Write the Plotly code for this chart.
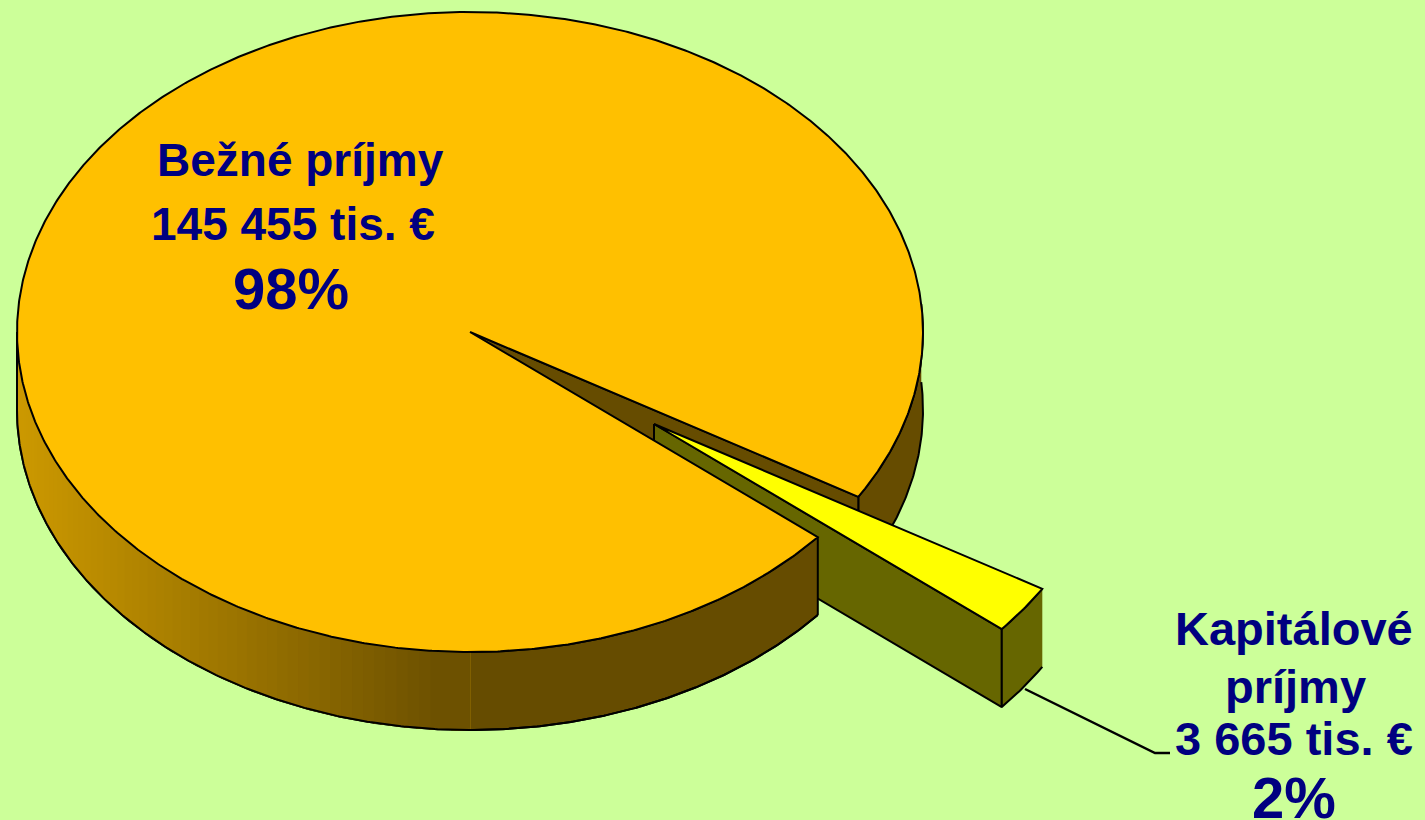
import numpy as np
import plotly.graph_objects as go

# --- data -------------------------------------------------------------
categories = ["Bežné príjmy", "Kapitálové příjmy"]
category_lines = [["Bežné príjmy"], ["Kapitálové", "príjmy"]]
values = [145455, 3665]
unit = "tis. €"

# --- styles / projection ---------------------------------------------
BG = "#CCFF99"
TOP_MAIN = "#FFC000"
WALL_DARK = (102, 76, 0)
WALL_LIGHT = (204, 153, 0)
TOP_SLICE = "#FFFF00"
WALL_SLICE = "#666600"
TEXT = "#000080"
FONT = "Liberation Sans"

CX, CY, RX, RY = 470.0, 332.0, 453.0, 320.0
DEPTH = 78.0
EXPLODE = (184.0, 92.0)
START_DEG = 31.0          # where the small slice starts, clockwise from 3 o'clock

total = sum(values)
small_sweep = 360.0 * values[1] / total
a0 = START_DEG
a1 = START_DEG + small_sweep


def ex(deg, dx=0.0):
    return CX + dx + RX * np.cos(np.radians(deg))


def ey(deg, dy=0.0):
    return CY + dy + RY * np.sin(np.radians(deg))


def arc(d0, d1, dx=0.0, dy=0.0, n=None):
    n = n or max(2, int(abs(d1 - d0) * 3) + 2)
    t = np.linspace(d0, d1, n)
    return ex(t, dx), ey(t, dy)


fig = go.Figure()


def poly(x, y, fill, line=True, width=2):
    fig.add_trace(go.Scatter(
        x=np.round(np.asarray(x, float), 2).tolist(),
        y=np.round(np.asarray(y, float), 2).tolist(),
        mode="lines", fill="toself", fillcolor=fill,
        line=dict(color="#000000" if line else fill, width=width if line else 0.1),
        hoverinfo="skip", showlegend=False,
    ))


def outer_wall(d0, d1, dx=0.0, dy=0.0, fill=None, line=True):
    x, y = arc(d0, d1, dx, dy)
    xs = np.concatenate([x, x[::-1]])
    ys = np.concatenate([y, y[::-1] + DEPTH])
    poly(xs, ys, fill, line)


def wall_colour(x):
    f = min(1.0, max(0.0, (x - (CX - RX)) / (RX - 8)))
    c = [WALL_LIGHT[i] + (WALL_DARK[i] - WALL_LIGHT[i]) * f for i in range(3)]
    return "rgb(%d,%d,%d)" % tuple(round(v) for v in c)


dark = "rgb(%d,%d,%d)" % WALL_DARK

# rear right outer wall of the big slice
outer_wall(-5, a0, fill=dark)

# radial wall seen through the gap
poly([CX, ex(a0), ex(a0), CX, CX],
     [CY, ey(a0), ey(a0) + DEPTH, CY + DEPTH, CY], dark)

# exploded slice: walls
dx, dy = EXPLODE
ax, ay = CX + dx, CY + dy
poly([ax, ex(a1, dx), ex(a1, dx), ax, ax],
     [ay, ey(a1, dy), ey(a1, dy) + DEPTH, ay + DEPTH, ay], WALL_SLICE)
outer_wall(a0, a1, dx, dy, fill=WALL_SLICE)

# front wall of big slice, with left-to-right gradient (painted back to front)
outer_wall(a1, 180, fill=dark)
for i, deg in enumerate(np.linspace(180, 95, 60)):
    x_, y_ = arc(a1 + 40, deg)
    x2, y2 = x_, y_
    outer_wall(deg, 90, fill=wall_colour(float(ex(deg))), line=False)
# outline of the front wall (bottom edge and left edge)
lx, ly = arc(a1, 180)
fig.add_trace(go.Scatter(
    x=lx.tolist() + [lx[-1]], y=(ly + DEPTH).tolist() + [ly[-1]],
    mode="lines", line=dict(color="#000000", width=2),
    hoverinfo="skip", showlegend=False))
fig.add_trace(go.Scatter(
    x=[ex(a1), ex(a1)], y=[ey(a1), ey(a1) + DEPTH],
    mode="lines", line=dict(color="#000000", width=2),
    hoverinfo="skip", showlegend=False))

# top of big slice
x, y = arc(a1, a0 + 360)
poly([CX, *x, CX], [CY, *y, CY], TOP_MAIN)

# top of exploded slice
x, y = arc(a0, a1, dx, dy)
poly([ax, *x, ax], [ay, *y, ay], TOP_SLICE)

# leader line
fig.add_trace(go.Scatter(
    x=[1025, 1155, 1170], y=[689, 753, 753], mode="lines",
    line=dict(color="#000000", width=2.5), hoverinfo="skip", showlegend=False))


def fmt(v):
    return f"{v:,}".replace(",", " ") + " " + unit


def pct(v):
    return f"{round(100 * v / total)}%"


labels = [
    (category_lines[0][0], 300, 160, 46),
    (fmt(values[0]), 293, 224, 46),
    (pct(values[0]), 291, 288, 58),
    (category_lines[1][0], 1294, 628, 47),
    (category_lines[1][1], 1295, 686, 47),
    (fmt(values[1]), 1294, 738, 47),
    (pct(values[1]), 1294, 797, 58),
]
annotations = [
    dict(x=xp, y=yp, text=f"<b>{t}</b>", showarrow=False, xanchor="center",
         yanchor="middle", font=dict(family=FONT, size=s, color=TEXT))
    for t, xp, yp, s in labels
]

fig.update_layout(
    width=1425, height=820, margin=dict(l=0, r=0, t=0, b=0, pad=0),
    paper_bgcolor=BG, plot_bgcolor=BG, showlegend=False,
    xaxis=dict(range=[0, 1425], visible=False, fixedrange=True),
    yaxis=dict(range=[820, 0], visible=False, fixedrange=True),
    annotations=annotations,
)

fig.write_html(
    "out.html",
    config=dict(displayModeBar=False),
    post_script="document.body.style.margin='0';document.body.style.background='%s';" % BG,
)
